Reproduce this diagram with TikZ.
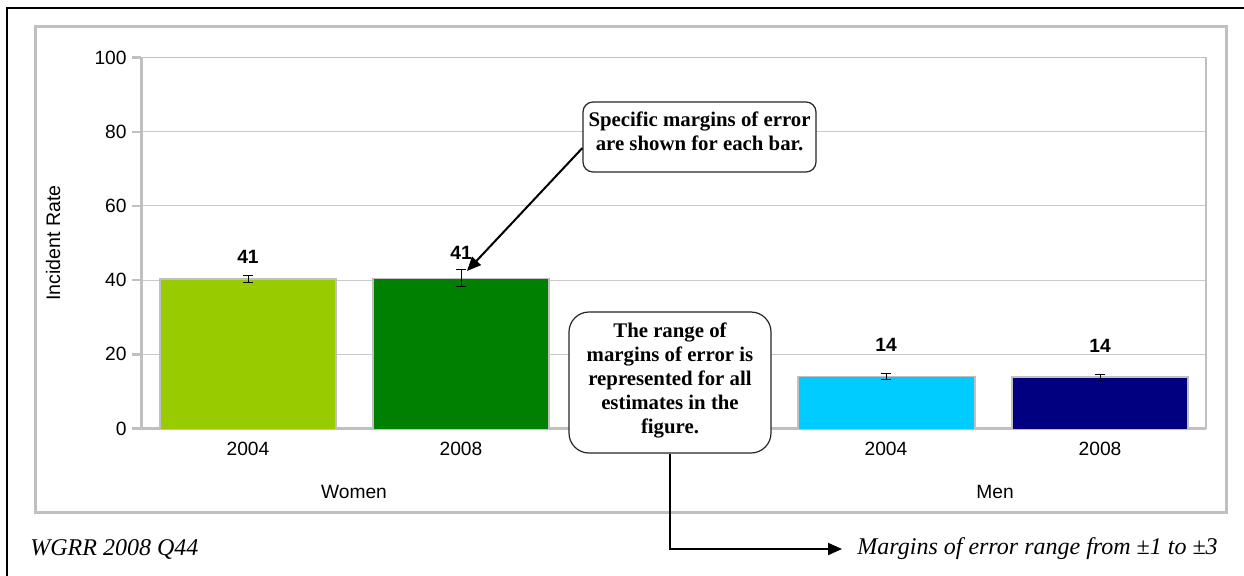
\documentclass[tikz,border=0pt]{standalone}
\usepackage{fontspec}
\setmainfont{Liberation Serif}
\setsansfont{Liberation Sans}
\usetikzlibrary{arrows.meta}
\definecolor{framegray}{HTML}{C0C0C0}
\definecolor{gridgray}{HTML}{CACACA}
\definecolor{wA}{HTML}{99CC00}
\definecolor{wB}{HTML}{008000}
\definecolor{mA}{HTML}{00CCFF}
\definecolor{mB}{HTML}{000080}
\begin{document}
\begin{tikzpicture}[x=0.5pt,y=-0.5pt,
  axislbl/.style={font=\sffamily\fontsize{9.6}{11}\selectfont, inner sep=0},
  vallbl/.style={font=\sffamily\bfseries\fontsize{9.6}{11}\selectfont, inner sep=0},
  barbox/.style={draw=framegray, line width=0.6pt},
  errbar/.style={line width=0.5pt},
  callout/.style={draw=black!85, line width=0.6pt, fill=white, inner sep=0},
  calltext/.style={font=\bfseries\fontsize{10.4}{12}\selectfont, align=center, inner sep=0},
  note/.style={font=\itshape\fontsize{12}{14}\selectfont, inner sep=0},
  pointer/.style={line width=1pt, -{Triangle[length=7pt,width=6pt]}}
]
\useasboundingbox (0,0) rectangle (1244,575);
\fill[white] (0,0) rectangle (1244,575);
% outer frame
\draw[line width=1pt] (7,580) -- (7,8) -- (1250,8);
% chart frame
\draw[framegray, line width=1.5pt] (35,26) rectangle (1226,512);
% grid lines
\foreach \v in {20,40,60,80} {
  \pgfmathsetmacro\yy{428.5-3.71*\v}
  \draw[gridgray, line width=0.5pt] (141,\yy) -- (1206,\yy);
}
\draw[framegray, line width=0.8pt] (141,57.5) -- (1206,57.5) -- (1206,428.5);
% ticks and tick labels
\foreach \v in {0,20,40,60,80,100} {
  \pgfmathsetmacro\yy{428.5-3.71*\v}
  \draw[framegray, line width=1.2pt] (132,\yy) -- (141,\yy);
  \node[axislbl, anchor=east] (t\v) at (127,\yy) {\v};
}
% axes
\draw[framegray, line width=1.5pt] (141,57.5) -- (141,428.5) -- (1206,428.5);
% axis title
\node[font=\sffamily\fontsize{9.8}{11}\selectfont, inner sep=0, rotate=90] (ytitle) at (53,243) {Incident Rate};
% bars
\fill[wA] (160,279.0) rectangle (336,428.5);
\draw[barbox] (160,428.5) -- (160,279.0) -- (336,279.0) -- (336,428.5);
\fill[wB] (373,278.3) rectangle (549,428.5);
\draw[barbox] (373,428.5) -- (373,278.3) -- (549,278.3) -- (549,428.5);
\fill[mA] (798,376.6) rectangle (975,428.5);
\draw[barbox] (798,428.5) -- (798,376.6) -- (975,376.6) -- (975,428.5);
\fill[mB] (1012,377) rectangle (1188,428.5);
\draw[barbox] (1012,428.5) -- (1012,377) -- (1188,377) -- (1188,428.5);
% error bars
\foreach \cx/\ya/\yb in {248/275/282.5, 461/269.5/286.5, 886/373/379.5, 1100/374/381} {
  \draw[errbar] (\cx-5,\ya) -- (\cx+5,\ya) (\cx,\ya) -- (\cx,\yb) (\cx-5,\yb) -- (\cx+5,\yb);
}
\coordinate (e2) at (467,271);
% value labels
\node[vallbl] (v1) at (248,257) {41};
\node[vallbl] (v2) at (461,253) {41};
\node[vallbl] (v3) at (886,345) {14};
\node[vallbl] (v4) at (1100,346) {14};
% category labels
\node[axislbl] (y1) at (248,449) {2004};
\node[axislbl] (y2) at (461,449) {2008};
\node[axislbl] (y3) at (886,449) {2004};
\node[axislbl] (y4) at (1100,449) {2008};
\node[axislbl] (gw) at (354,492) {Women};
\node[axislbl] (gm) at (995,492) {Men};
% callout 1
\node[callout, rounded corners=5pt, minimum width=116.5pt, minimum height=35pt] (c1) at (699.5,137) {};
\node[calltext] (c1t) at (699.5,131) {Specific margins of error\\are shown for each bar.};
\draw[pointer] ([yshift=-5.5pt]c1.west) -- (e2);
% callout 2
\node[callout, rounded corners=10pt, minimum width=101pt, minimum height=70.5pt] (c2) at (670,382.5) {};
\node[calltext] (c2t) at (670,380) {The range of\\margins of error is\\represented for all\\estimates in the\\figure.};
% notes
\node[note, anchor=west] (n1) at (30,549) {WGRR 2008 Q44};
\node[note, anchor=west] (n2) at (857,549) {Margins of error range from ±1 to ±3};
\draw[pointer] (c2.south) |- ([xshift=-7.5pt]n2.west);
\end{tikzpicture}
\end{document}
